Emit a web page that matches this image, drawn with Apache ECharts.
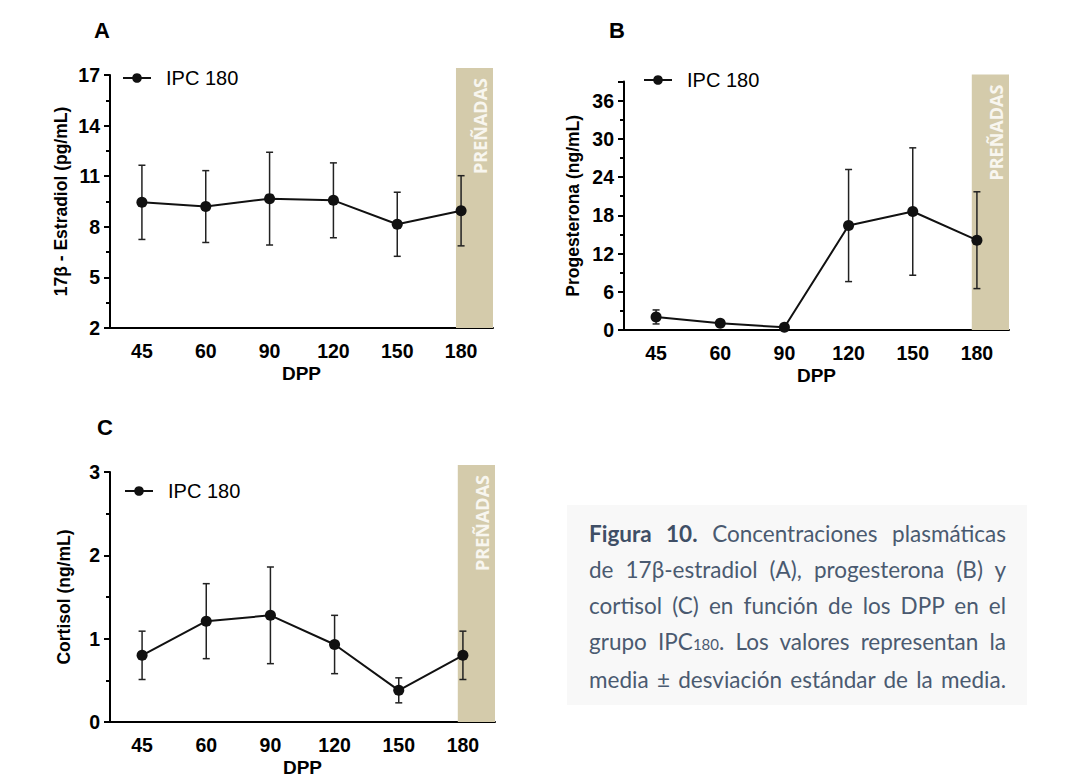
<!DOCTYPE html>
<html>
<head>
<meta charset="utf-8">
<script src="https://cdn.jsdelivr.net/npm/echarts@6/dist/echarts.min.js"></script>
<style>
  html, body { margin: 0; padding: 0; background: #fff; }
  #wrap { position: relative; width: 1074px; height: 778px; overflow: hidden; }
  #chart { position: absolute; left: 0; top: 0; width: 1074px; height: 778px; }
  #caption {
    position: absolute; left: 567px; top: 505px; width: 460px; height: 200px;
    box-sizing: border-box; padding: 11px 21px 0 22px;
    background: #f8f8f8; color: #4a5a70;
    font-family: Lato, 'Open Sans', sans-serif; font-size: 22.5px; line-height: 36px;
  }
  #caption .ln { text-align: justify; text-align-last: justify; white-space: nowrap; }
  #caption b { font-weight: 700; color: #3f4f66; }
  #caption small { font-size: 15px; }
</style>
</head>
<body>
<div id="wrap">
  <div id="chart"></div>
  <div id="caption">
    <div class="ln"><b>Figura 10.</b> Concentraciones plasmáticas</div>
    <div class="ln">de 17β-estradiol (A), progesterona (B) y</div>
    <div class="ln">cortisol (C) en función de los DPP en el</div>
    <div class="ln">grupo IPC<small>180</small>. Los valores representan la</div>
    <div class="ln">media ± desviación estándar de la media.</div>
  </div>
</div>
<script>
// días posparto (DPP)
const categories = ['45', '60', '90', '120', '150', '180'];
const seriesName = 'IPC 180';
const pregnantLabel = 'PREÑADAS';
const pregnantIndex = 5;

// medias y desviaciones
const estradiolMean = [9.45, 9.2, 9.67, 9.57, 8.15, 8.95];
const estradiolSd = [2.2, 2.13, 2.75, 2.22, 1.9, 2.08];
const progesteronaMean = [2.05, 1.05, 0.42, 16.4, 18.6, 14.1];
const progesteronaSd = [1.1, 0.4, 0.3, 8.8, 10.0, 7.6];
const cortisolMean = [0.8, 1.21, 1.28, 0.93, 0.38, 0.8];
const cortisolSd = [0.29, 0.45, 0.58, 0.35, 0.15, 0.29];

// [min, max, intervalo]
const estradiolAxis = [2, 17, 3];
const progesteronaAxis = [0, 39, 6];
const cortisolAxis = [0, 3, 1];

const FONT = "'Liberation Sans', Arial, sans-serif";
const BLACK = '#000';

const chart = echarts.init(document.getElementById('chart'), null, { renderer: 'svg' });

const panels = [
  { title: 'A', yName: '17β - Estradiol (pg/mL)', mean: estradiolMean, sd: estradiolSd, axis: estradiolAxis,
    grid: { left: 110, top: 75, width: 383, height: 253 }, nameGap: 40,
    titlePos: { left: 94, top: 19 }, legendPos: { left: 122, top: 68 } },
  { title: 'B', yName: 'Progesterona (ng/mL)', mean: progesteronaMean, sd: progesteronaSd, axis: progesteronaAxis,
    grid: { left: 624, top: 81.6, width: 385, height: 248.4 }, nameGap: 42,
    titlePos: { left: 609, top: 19 }, legendPos: { left: 643, top: 70 } },
  { title: 'C', yName: 'Cortisol (ng/mL)', mean: cortisolMean, sd: cortisolSd, axis: cortisolAxis,
    grid: { left: 110, top: 472, width: 385, height: 256 }, nameGap: 37,
    titlePos: { left: 97, top: 416 }, legendPos: { left: 124, top: 481 } }
];

function bandRender(yMin, yMax) {
  return function (params, api) {
    const top = api.coord([api.value(0), yMax]);
    const bottom = api.coord([api.value(0), yMin]);
    const band = api.size([1, 0])[0];
    const x0 = top[0] - band * 0.08;
    const x1 = top[0] + band * 0.5;
    const y0 = top[1] - 7;
    return {
      type: 'group',
      children: [
        { type: 'rect', shape: { x: x0, y: y0, width: x1 - x0, height: bottom[1] - y0 },
          style: { fill: '#d4cbab' } },
        { type: 'text', x: x1 - 13, y: y0 + 10, rotation: Math.PI / 2,
          style: { text: pregnantLabel, fill: '#f8f6ef', align: 'right', verticalAlign: 'middle',
            font: "bold 18px 'Open Sans', sans-serif" } }
      ]
    };
  };
}

function errorRender(params, api) {
  const hi = api.coord([api.value(0), api.value(2)]);
  const lo = api.coord([api.value(0), api.value(1)]);
  const cap = 3.5;
  const style = { stroke: '#222', lineWidth: 1.5 };
  return {
    type: 'group',
    children: [
      { type: 'line', shape: { x1: hi[0], y1: hi[1], x2: lo[0], y2: lo[1] }, style },
      { type: 'line', shape: { x1: hi[0] - cap, y1: hi[1], x2: hi[0] + cap, y2: hi[1] }, style },
      { type: 'line', shape: { x1: lo[0] - cap, y1: lo[1], x2: lo[0] + cap, y2: lo[1] }, style }
    ]
  };
}

const option = {
  backgroundColor: '#fff',
  animation: false,
  title: panels.map(p => ({
    text: p.title, left: p.titlePos.left, top: p.titlePos.top, padding: 0,
    textStyle: { fontFamily: FONT, fontWeight: 'bold', fontSize: 22, color: BLACK }
  })),
  legend: panels.map(p => ({
    data: [seriesName], left: p.legendPos.left, top: p.legendPos.top, padding: 0,
    itemWidth: 28, itemHeight: 12, selectedMode: false,
    textStyle: { fontFamily: FONT, fontSize: 20, color: BLACK, padding: [0, 0, 0, 10] }
  })),
  grid: panels.map(p => Object.assign({ containLabel: false }, p.grid)),
  xAxis: panels.map((p, i) => ({
    type: 'category', gridIndex: i, data: categories, boundaryGap: true,
    name: 'DPP', nameLocation: 'middle', nameGap: 36,
    nameTextStyle: { fontFamily: FONT, fontWeight: 'bold', fontSize: 19, color: BLACK },
    axisLine: { lineStyle: { color: BLACK, width: 2 } },
    axisTick: { alignWithLabel: true, length: 6, lineStyle: { color: BLACK, width: 2 } },
    axisLabel: { fontFamily: FONT, fontWeight: 'bold', fontSize: 19.5, color: BLACK, margin: 13 },
    splitLine: { show: false }
  })),
  yAxis: panels.map((p, i) => ({
    type: 'value', gridIndex: i, min: p.axis[0], max: p.axis[1], interval: p.axis[2],
    name: p.yName, nameLocation: 'middle', nameGap: p.nameGap,
    nameTextStyle: { fontFamily: FONT, fontWeight: 'bold', fontSize: 17.5, color: BLACK },
    axisLine: { show: true, lineStyle: { color: BLACK, width: 2 } },
    axisTick: { show: true, length: 6, lineStyle: { color: BLACK, width: 2 } },
    minorTick: { show: true, splitNumber: 2, length: 4, lineStyle: { color: BLACK, width: 2 } },
    axisLabel: { fontFamily: FONT, fontWeight: 'bold', fontSize: 19.5, color: BLACK, margin: 10,
      showMaxLabel: i !== 1 },
    splitLine: { show: false }
  })),
  series: []
};

panels.forEach((p, i) => {
  option.series.push({
    type: 'custom', xAxisIndex: i, yAxisIndex: i, z: 1, silent: true,
    renderItem: bandRender(p.axis[0], p.axis[1]),
    data: [[pregnantIndex]]
  });
  option.series.push({
    type: 'custom', xAxisIndex: i, yAxisIndex: i, z: 2, silent: true,
    renderItem: errorRender,
    data: p.mean.map((m, k) => [k, m - p.sd[k], m + p.sd[k]])
  });
  option.series.push({
    name: seriesName, type: 'line', xAxisIndex: i, yAxisIndex: i, z: 3,
    data: p.mean, symbol: 'circle', symbolSize: 11,
    itemStyle: { color: '#111' }, lineStyle: { color: '#111', width: 2 }
  });
});

chart.setOption(option);
</script>
</body>
</html>
